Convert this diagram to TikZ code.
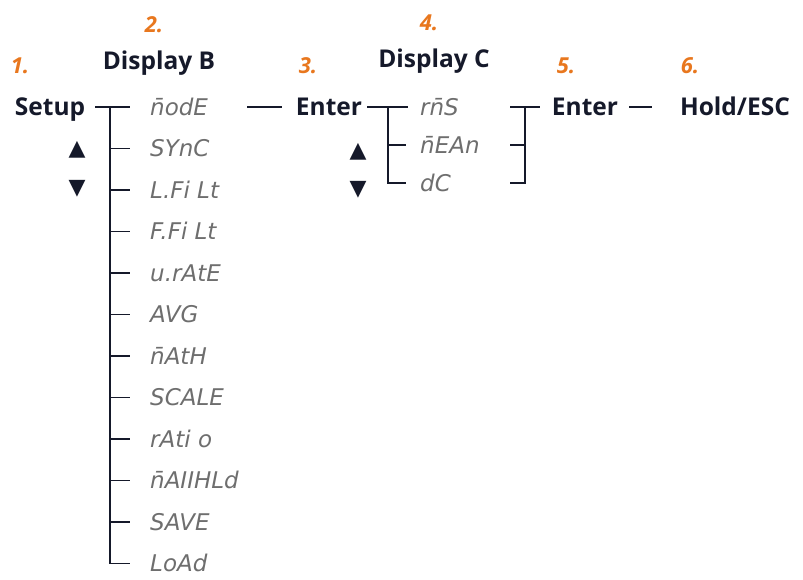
\documentclass[tikz,border=0pt]{standalone}
\usepackage{fontspec}
\setmainfont{Open Sans}
\newfontfamily\segfont{DejaVu Sans}
\newfontfamily\symfont{DejaVu Sans}
\definecolor{ink}{HTML}{15192A}
\definecolor{ornum}{HTML}{E8771E}
\definecolor{seg}{HTML}{6E6E6E}
\usetikzlibrary{calc}

\tikzset{
	lbl/.style={font=\fontsize{24.5}{28}\selectfont\bfseries, text=ink, inner sep=0pt, text height=17pt, text depth=0pt},
	num/.style={font=\fontsize{22}{24}\selectfont\bfseries\itshape, text=ornum, inner sep=0pt, text height=15pt, text depth=0pt},
	segtxt/.style={font=\segfont\itshape\fontsize{23}{26}\selectfont, text=seg, inner sep=0pt, text height=16.5pt, text depth=0pt, anchor=west},
	arr/.style={font=\symfont\fontsize{22}{24}\selectfont, text=ink, inner sep=0pt},
	wire/.style={line width=1.4pt, draw=ink}
}

\begin{document}
\begin{tikzpicture}[x=1pt,y=-1pt]
		\useasboundingbox (0,0) rectangle (803,580);
		% headings
		\node[num] (n1) at (20,66) {1.};
		\node[num] (n2) at (154,25) {2.};
		\node[num] (n3) at (308,66) {3.};
		\node[num] (n4) at (429,23) {4.};
		\node[num] (n5) at (566,66) {5.};
		\node[num] (n6) at (690,66) {6.};
		\node[lbl] (dispb) at (159,61) {Display B};
		\node[lbl] (dispc) at (434,59) {Display C};
		% keys
		\node[lbl] (setup) at (50,107) {Setup};
		\node[lbl] (enter1) at (329,107) {Enter};
		\node[lbl] (enter2) at (585,107) {Enter};
		\node[lbl] (hold) at (735,107) {Hold/ESC};
		\node[arr] (upb) at (77,150) {▲};
		\node[arr] (dnb) at (77,189) {▼};
		\node[arr] (upc) at (358,152) {▲};
		\node[arr] (dnc) at (358,190) {▼};
		% display B list
		\foreach \t [count=\i] in {n̄odE, SYnC, L.Fi Lt, F.Fi Lt, u.rAtE, AVG, n̄AtH, SCALE, rAti o, n̄AIIHLd, SAVE, LoAd}
		\node[segtxt] (b\i) at (150,107+41.5*\i-41.5) {\t};
		\coordinate (jb) at (110,0);
		\draw[wire] ([xshift=10pt]setup.east) -- ([xshift=-20pt]b1.west);
		\draw[wire] (jb|-b1) -- (jb|-b12) -- ([xshift=-20pt]b12.west);
		\foreach \i in {2,...,11}
		\draw[wire] (jb|-b\i) -- ([xshift=-20pt]b\i.west);
		\draw[wire] ([xshift=-14pt]enter1.west) -- ([xshift=-49pt]enter1.west);
		% display C list
		\foreach \t [count=\i] in {rn̄S, n̄EAn, dC}
		\node[segtxt] (c\i) at (420,107+38*\i-38) {\t};
		\coordinate (jc) at (388,0);
		\draw[wire] ([xshift=5pt]enter1.east) -- ([xshift=-12pt]c1.west);
		\draw[wire] (jc|-c1) -- (jc|-c3) -- ([xshift=-14pt]c3.west);
		\draw[wire] (jc|-c2) -- ([xshift=-14pt]c2.west);
		% closing bracket
		\coordinate (jr) at (525,0);
		\draw[wire] (jr|-c1) -- (jr|-c3) -- ++(-15,0);
		\draw[wire] (jr|-c2) -- ++(-15,0);
		\draw[wire] (jr|-c1) ++(-15,0) -- ([xshift=-12pt]enter2.west);
		\draw[wire] ([xshift=11pt]enter2.east) -- ([xshift=-28pt]hold.west);
		\end{tikzpicture}
\end{document}
